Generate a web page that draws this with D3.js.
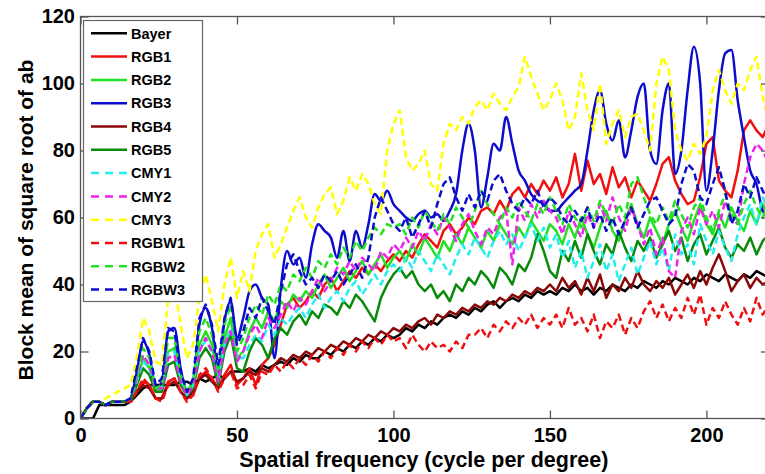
<!DOCTYPE html>
<html>
<head>
<meta charset="utf-8">
<script src="https://cdn.jsdelivr.net/npm/d3@7/dist/d3.min.js"></script>
<style>
html,body{margin:0;padding:0;background:#fff;}
svg{display:block;font-family:"Liberation Sans",Arial,sans-serif;}
</style>
</head>
<body>
<svg id="chart" width="765" height="474"></svg>
<script>
// x positions: 0..220 step 2
const xValues = d3.range(0, 221, 2);
const xTicks = [0, 50, 100, 150, 200];
const yTicks = [0, 20, 40, 60, 80, 100, 120];
const xLabel = "Spatial frequency (cycle per degree)";
const yLabel = "Block mean of square root of ab";

const seriesNames = ["Bayer","RGB1","RGB2","RGB3","RGB4","RGB5","CMY1","CMY2","CMY3","RGBW1","RGBW2","RGBW3"];
const seriesColors = ["#000000","#f01010","#22e022","#0c0ccc","#8b0808","#0a8a0a","#22eeee","#ee22ee","#ffff00","#ee1010","#22e022","#0c0ccc"];
const seriesDashed = [false,false,false,false,false,false,true,true,true,true,true,true];
const seriesSmooth = [false,false,false,true,false,false,false,false,false,false,false,false];

const Bayer = [0,0,0,4,4,4,4,4,
 5,7,9,10,10,10,10,10,11,11,10,12,11,12,13,12,14,14,
 14,15,14,16,15,16,17,16,18,17,19,18,18,20,19,21,20,22,21,23,22,24,23,25,24,
 25,27,26,28,27,29,28,30,31,30,32,31,33,32,34,35,33,35,36,35,37,36,38,37,38,
 37,39,38,40,38,39,37,39,38,40,39,38,40,39,41,40,39,41,40,42,41,40,42,41,43,42,41,43,42,41,43,42,44,43,42];
const RGB1 = [0,3,5,5,4,5,5,5,
 5,8,11,10,6,6,11,12,8,6,7,12,14,12,9,13,16,10,
 12,15,10,16,18,22,28,34,36,33,35,38,36,40,42,38,41,44,42,45,43,46,44,47,49,
 47,50,48,52,55,53,51,56,58,55,57,60,58,62,63,61,65,62,67,69,66,70,67,71,68,
 72,66,70,79,68,77,70,73,67,75,69,72,66,71,68,65,70,76,78,71,67,64,65,72,82,84,71,68,66,74,86,89,86,84,88];
const RGB2 = [0,3,5,5,4,5,5,5,
 6,11,18,15,8,9,20,21,12,7,10,22,26,22,12,24,30,18,
 20,26,30,27,32,29,35,33,37,35,38,36,40,43,39,42,45,41,44,47,43,46,49,45,48,
 50,47,52,49,54,51,48,53,50,55,52,57,54,51,56,53,58,55,52,57,54,59,56,53,58,
 56,52,58,54,60,55,51,57,62,56,53,59,64,58,54,60,56,52,58,62,57,53,59,64,58,55,61,57,63,59,56,62,58,64,60];
const RGB3 = [0,3,5,5,4,5,5,5,
 6,14,23,19,9,11,26,27,15,8,11,28,33,27,14,29,35,24,
 30,38,40,36,34,18,39,50,46,48,42,52,58,56,54,48,56,47,56,51,58,67,65,68,64,
 62,60,59,61,62,60,61,59,62,67,80,88,80,63,72,82,80,90,82,74,71,67,65,64,62,
 62,64,66,68,70,80,92,98,88,83,89,78,86,96,100,80,76,92,100,73,80,98,111,100,68,80,98,109,110,95,84,74,70,62,60];
const RGB4 = [0,3,5,5,4,5,5,5,
 5,8,10,9,6,6,10,11,8,6,8,12,13,11,9,12,14,11,
 12,14,13,15,14,16,18,17,19,18,20,19,21,20,22,21,23,22,24,23,25,24,26,25,27,
 26,28,27,29,30,28,31,30,32,31,33,32,34,33,35,34,36,35,37,36,38,37,39,38,40,
 38,42,39,41,37,42,38,43,36,40,38,42,39,44,40,38,41,39,42,37,40,43,39,44,40,45,49,44,38,41,43,39,42,40,41];
const RGB5 = [0,3,5,5,4,5,5,5,
 5,10,15,13,8,8,16,17,10,7,9,18,21,18,10,20,25,15,
 14,20,24,22,18,24,27,25,29,31,28,32,30,34,33,31,35,33,37,35,32,29,36,40,43,
 45,42,44,40,38,40,36,38,35,40,38,42,40,44,42,39,45,43,40,46,44,48,55,50,44,
 42,50,47,53,48,55,50,46,52,49,56,51,47,53,50,54,48,52,56,50,54,47,52,55,49,53,57,51,48,52,50,54,49,53,55];
const CMY1 = [0,3,5,5,4,5,5,5,
 6,11,17,15,9,9,19,20,12,7,10,21,23,20,12,22,27,18,
 18,22,25,23,28,25,30,28,31,33,30,34,37,33,36,38,35,39,41,37,40,43,40,44,46,
 44,48,45,50,47,44,49,46,43,48,52,49,54,51,48,53,56,52,55,50,54,58,53,57,51,
 55,48,53,45,50,42,47,52,44,49,41,46,51,43,48,53,46,51,44,55,49,52,46,58,53,49,56,51,47,55,60,64,58,66,62];
const CMY2 = [0,3,5,5,4,5,5,5,
 6,12,19,16,9,9,18,19,11,7,10,20,24,20,11,22,26,17,
 20,25,28,24,30,27,31,35,32,36,34,38,42,38,41,45,43,47,44,48,46,44,50,48,52,
 50,54,51,56,53,58,55,60,57,53,58,61,56,52,57,55,60,62,46,63,59,64,60,65,62,
 60,55,62,58,54,61,57,64,59,66,60,56,63,58,52,57,49,54,44,42,56,60,55,63,58,62,57,65,60,58,70,78,82,80,76];
const CMY3 = [0,3,5,5,6,7,8,9,
 10,18,30,26,17,16,36,40,28,18,22,36,43,35,26,40,48,36,
 44,38,50,55,58,48,52,57,62,66,60,57,63,67,69,61,65,72,68,73,70,64,61,80,88,
 92,78,74,76,80,70,68,82,88,86,90,88,93,95,92,97,94,92,96,99,108,102,97,92,95,
 100,95,86,90,103,92,86,100,82,88,92,84,90,91,86,80,100,108,104,86,80,77,82,79,84,98,104,98,94,100,98,104,108,96,88];
const RGBW1 = [0,3,5,5,4,5,5,5,
 5,8,12,10,6,5,10,12,8,5,7,13,15,12,8,12,14,9,
 10,13,9,14,13,16,14,17,15,18,16,19,17,20,18,21,19,22,20,23,21,24,22,25,23,
 24,21,25,22,20,23,21,22,20,23,21,25,25,27,24,28,26,29,27,30,28,31,27,30,28,
 31,27,33,28,30,26,31,24,29,27,31,25,30,27,32,35,30,34,29,33,30,36,31,37,28,33,30,35,31,28,33,29,36,31,34];
const RGBW2 = [0,3,5,5,4,5,5,5,
 6,13,21,18,9,10,24,24,13,8,11,26,30,25,14,28,34,20,
 24,30,34,31,37,34,40,38,43,41,45,42,47,45,49,46,51,48,53,50,54,57,55,58,57,
 58,55,60,57,62,59,56,61,58,63,60,57,62,68,64,61,58,63,60,65,62,59,64,61,66,
 62,58,64,60,57,63,59,65,61,58,64,60,70,72,66,61,58,63,59,65,61,57,63,66,60,56,62,67,61,58,64,68,63,60,65];
const RGBW3 = [0,3,5,5,4,5,5,5,
 6,15,24,20,10,12,27,26,14,8,12,30,34,28,16,30,36,22,
 26,33,30,36,32,28,38,46,49,44,40,42,39,43,41,44,40,43,46,42,48,60,66,62,58,
 56,60,54,58,62,57,64,70,72,66,62,67,63,68,65,71,73,68,64,62,66,64,68,63,66,
 64,60,58,62,59,63,57,61,56,60,55,59,63,57,61,65,66,62,58,60,70,76,74,66,64,70,75,68,58,62,70,66,72,68,64];

const seriesValues = [Bayer,RGB1,RGB2,RGB3,RGB4,RGB5,CMY1,CMY2,CMY3,RGBW1,RGBW2,RGBW3];

const svg = d3.select("#chart");
const pL = 80.5, pR = 769, pT = 16.5, pB = 418.5;
const x = d3.scaleLinear().domain([0, 220]).range([pL, pR]);
const y = d3.scaleLinear().domain([0, 120]).range([pB, pT]);

svg.append("defs").append("clipPath").attr("id","clip")
  .append("rect").attr("x", pL).attr("y", pT).attr("width", pR-pL).attr("height", pB-pT);

const lineJag = d3.line().x((d,i)=>x(xValues[i])).y(d=>y(d));
const lineSmooth = d3.line().x((d,i)=>x(xValues[i])).y(d=>y(d)).curve(d3.curveMonotoneX);
const g = svg.append("g").attr("clip-path","url(#clip)");
seriesValues.forEach((vals, k) => {
  g.append("path").datum(vals)
    .attr("d", seriesSmooth[k] ? lineSmooth : lineJag)
    .attr("fill","none")
    .attr("stroke", seriesColors[k])
    .attr("stroke-width", 2.5)
    .attr("stroke-linejoin","round")
    .attr("stroke-dasharray", seriesDashed[k] ? "7,4" : null);
});

// box
const axisColor = "#555";
svg.append("rect").attr("x",pL).attr("y",pT).attr("width",pR-pL).attr("height",pB-pT)
  .attr("fill","none").attr("stroke",axisColor).attr("stroke-width",1.3);

// axes with inward ticks
const gx = svg.append("g").attr("transform",`translate(0,${pB})`)
  .call(d3.axisBottom(x).tickValues(xTicks).tickSize(-8).tickPadding(9.5));
const gxt = svg.append("g").attr("transform",`translate(0,${pT})`)
  .call(d3.axisTop(x).tickValues(xTicks).tickSize(-8).tickFormat(""));
const gy = svg.append("g").attr("transform",`translate(${pL},0)`)
  .call(d3.axisLeft(y).tickValues(yTicks).tickSize(-8).tickPadding(5.5));
const gyr = svg.append("g").attr("transform",`translate(${pR},0)`)
  .call(d3.axisRight(y).tickValues(yTicks).tickSize(-8).tickFormat(""));
[gx,gxt,gy,gyr].forEach(a=>{
  a.select(".domain").remove();
  a.selectAll(".tick line").attr("stroke",axisColor).attr("stroke-width",1.3);
  a.selectAll(".tick text").attr("fill","#000").style("font-size","20px").style("font-weight","bold")
    .style("font-family",'"Liberation Sans",Arial,sans-serif');
});

// axis labels
svg.append("text").attr("x",(pL+pR)/2 - 1).attr("y",467).attr("text-anchor","middle")
  .style("font-size","21.5px").style("font-weight","bold").text(xLabel);
svg.append("text").attr("transform","translate(33,220) rotate(-90)").attr("text-anchor","middle")
  .style("font-size","21px").style("font-weight","bold").text(yLabel);

// legend
const lg = svg.append("g");
lg.append("rect").attr("x",83.5).attr("y",20.5).attr("width",119).attr("height",281)
  .attr("fill","#fff").attr("stroke","#666").attr("stroke-width",1.2);
seriesNames.forEach((name,k)=>{
  const yy = 33.3 + k*23.3;
  lg.append("line").attr("x1",91).attr("x2",127).attr("y1",yy).attr("y2",yy)
    .attr("stroke",seriesColors[k]).attr("stroke-width",2.5)
    .attr("stroke-dasharray", seriesDashed[k] ? "8,6" : null);
  lg.append("text").attr("x",131).attr("y",yy).attr("dy","0.36em")
    .style("font-size","14.5px").style("font-weight","bold").text(name);
});
</script>
</body>
</html>
